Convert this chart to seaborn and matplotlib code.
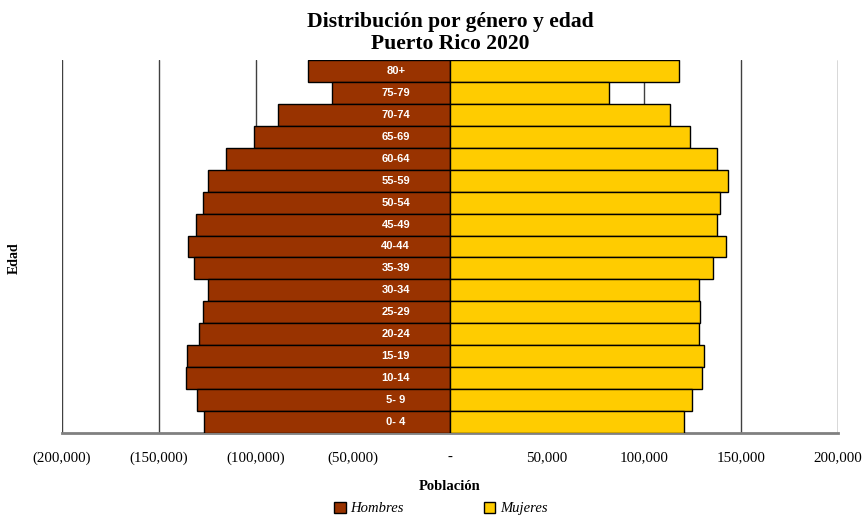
# Pirámide de población: Puerto Rico 2020, hombres a la izquierda y mujeres a la derecha

import matplotlib.pyplot as plt
import matplotlib.ticker as mticker
from matplotlib.patches import Patch
import pandas as pd
import seaborn as sns

# Grupos de edad (de arriba hacia abajo)
edades = ['80+', '75-79', '70-74', '65-69', '60-64', '55-59', '50-54', '45-49', '40-44',
          '35-39', '30-34', '25-29', '20-24', '15-19', '10-14', '5- 9', '0- 4']
hombres = [73200, 60800, 88700, 101000, 115500, 124700, 127300, 130900, 135000,
           132000, 124700, 127300, 129400, 135600, 136000, 130400, 126800]
mujeres = [117900, 82100, 113200, 123900, 137500, 143500, 139000, 137600, 142100,
           135700, 128200, 128700, 128400, 131100, 129700, 124600, 120800]

df = pd.DataFrame({'Edad': edades, 'Hombres': hombres, 'Mujeres': mujeres})
df['HombresNeg'] = -df['Hombres']

sns.set_style('white')
plt.rcParams['font.family'] = ['Liberation Serif', 'DejaVu Serif']
plt.rcParams['text.color'] = 'black'
plt.rcParams['axes.labelcolor'] = 'black'
plt.rcParams['xtick.color'] = 'black'

fig = plt.figure(figsize=(8.64, 5.17), dpi=100)
ax = fig.add_axes([0.0718, 0.1625, 0.8982, 0.7215])

color_h = '#993300'
color_m = '#FFCC00'

sns.barplot(data=df, x='HombresNeg', y='Edad', order=edades, color=color_h, width=1.0,
            edgecolor='black', linewidth=1, saturation=1, orient='h', ax=ax, zorder=3)
sns.barplot(data=df, x='Mujeres', y='Edad', order=edades, color=color_m, width=1.0,
            edgecolor='black', linewidth=1, saturation=1, orient='h', ax=ax, zorder=3)

# Etiquetas de edad dentro de las barras
for i, e in enumerate(edades):
    ax.text(-28000, i, e, ha='center', va='center', color='white', fontsize=8,
            fontweight='bold', family='Liberation Sans', zorder=4)

ax.set_xlim(-200000, 200000)
ax.set_ylim(len(edades) - 0.5, -0.5)
ax.set_xticks(range(-200000, 200001, 50000))


def fmt(v, pos):
    if v == 0:
        return '-'
    if v < 0:
        return '({:,.0f})'.format(-v)
    return '{:,.0f}'.format(v)


ax.xaxis.set_major_formatter(mticker.FuncFormatter(fmt))
ax.set_yticks([])
ax.grid(axis='x', color='#404040', linewidth=1, zorder=0)
ax.set_axisbelow(True)

for s in ['top', 'right', 'left']:
    ax.spines[s].set_visible(False)
ax.spines['bottom'].set_color('#808080')
ax.spines['bottom'].set_linewidth(2)
ax.tick_params(axis='x', direction='out', length=5, width=1.2, color='#808080',
               labelsize=10.8, pad=8, labelcolor='black')

ax.set_xlabel('Población', fontsize=10.5, fontweight='bold', labelpad=11)
ax.set_ylabel('')
fig.text(0.017, 0.5, 'Edad', rotation=90, ha='center', va='center', fontsize=10,
         fontweight='bold')
ax.set_title('Distribución por género y edad\nPuerto Rico 2020', fontsize=15.6,
             fontweight='bold', linespacing=1.15, pad=8, color='black')

handles = [Patch(facecolor=color_h, edgecolor='black', label='Hombres'),
           Patch(facecolor=color_m, edgecolor='black', label='Mujeres')]
fig.legend(handles=handles, loc='lower center', bbox_to_anchor=(0.51, -0.022), ncol=2,
           frameon=False, prop={'style': 'italic', 'size': 10.5}, handlelength=0.8,
           handleheight=0.8, handletextpad=0.3, columnspacing=5.5)

plt.savefig('out.png', dpi=100)
